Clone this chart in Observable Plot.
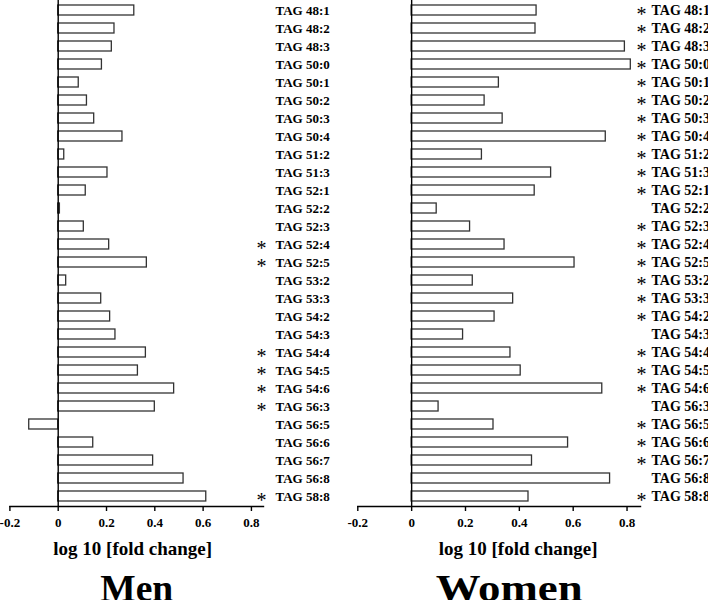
<!DOCTYPE html>
<html>
<head>
<meta charset="utf-8">
<script src="https://cdn.jsdelivr.net/npm/d3@7"></script>
<script src="https://cdn.jsdelivr.net/npm/@observablehq/plot@0.6"></script>
<style>
  html, body { margin: 0; padding: 0; background: white; }
  #wrap { position: relative; width: 708px; height: 600px; overflow: hidden; background: white; }
  #wrap svg { position: absolute; top: 0; background: transparent !important; overflow: visible; }
</style>
</head>
<body>
<div id="wrap"></div>
<script>
const categories = ["TAG 48:1","TAG 48:2","TAG 48:3","TAG 50:0","TAG 50:1","TAG 50:2","TAG 50:3","TAG 50:4","TAG 51:2","TAG 51:3","TAG 52:1","TAG 52:2","TAG 52:3","TAG 52:4","TAG 52:5","TAG 53:2","TAG 53:3","TAG 54:2","TAG 54:3","TAG 54:4","TAG 54:5","TAG 54:6","TAG 56:3","TAG 56:5","TAG 56:6","TAG 56:7","TAG 56:8","TAG 58:8"];
const menValues = [0.315,0.233,0.222,0.181,0.085,0.119,0.149,0.266,0.025,0.204,0.114,0.007,0.106,0.211,0.367,0.033,0.178,0.215,0.237,0.363,0.330,0.480,0.400,-0.120,0.145,0.393,0.519,0.613];
const womenValues = [0.464,0.460,0.792,0.814,0.324,0.271,0.338,0.721,0.261,0.518,0.457,0.093,0.217,0.345,0.605,0.227,0.377,0.308,0.191,0.367,0.405,0.708,0.100,0.304,0.581,0.447,0.737,0.434];
const menSig = [0,0,0,0,0,0,0,0,0,0,0,0,0,1,1,0,0,0,0,1,1,1,1,0,0,0,0,1];
const womenSig = [1,1,1,1,1,1,1,1,1,1,1,0,1,1,1,1,1,1,0,1,1,1,0,1,1,1,0,1];
const xTicks = [-0.2, 0, 0.2, 0.4, 0.6, 0.8];
const xDomain = [-0.2, 0.85];
const axisTitle = "log 10 [fold change]";
const panelTitles = ["Men", "Women"];

const FONT = "'Liberation Serif', 'Times New Roman', serif";

function panel(values, sig, title, cfg) {
  const data = categories.map((name, i) => ({name, value: values[i], sig: sig[i]}));
  const svg = Plot.plot({
    width: cfg.width,
    height: 600,
    marginTop: 0,
    marginBottom: 94,
    marginLeft: cfg.ml,
    marginRight: cfg.mr,
    style: {fontFamily: FONT, background: "transparent", color: "black"},
    x: {domain: xDomain, axis: null},
    y: {domain: categories, paddingInner: 0.45, paddingOuter: 0.225, axis: null},
    marks: [
      Plot.barX(data, {x1: 0, x2: "value", y: "name", fill: "white", stroke: "#333", strokeWidth: 1.3}),
      Plot.ruleX([0], {stroke: "black", strokeWidth: 1.4}),
      Plot.frame({anchor: "bottom", stroke: "black", strokeWidth: 1.4}),
      Plot.axisX({ticks: xTicks, tickSize: 5, tickPadding: 6, tickFormat: d => d === 0 ? "0" : d.toFixed(1),
        fontSize: 13, fontWeight: "bold", stroke: "black", strokeWidth: 1.4, label: null}),
      Plot.axisY({anchor: "right", tickSize: 0, tickPadding: cfg.lp, textAnchor: "start",
        fontSize: cfg.lf, fontWeight: "bold", label: null}),
      Plot.text(data.filter(d => d.sig), {y: "name", text: () => "*", frameAnchor: "right",
        dx: cfg.sx, dy: 4, fontSize: 20, fontFamily: FONT}),
      Plot.text([axisTitle], {frameAnchor: "bottom", lineAnchor: "bottom", dy: 48, dx: cfg.ax,
        fontSize: 19, fontWeight: "bold"}),
      Plot.text([title], {frameAnchor: "bottom", lineAnchor: "bottom", dy: 94, dx: cfg.tx,
        fontSize: 37, fontWeight: "bold"})
    ]
  });
  svg.style.left = cfg.left + "px";
  d3.select(svg).selectAll("text").filter(function() { return this.textContent === title; })
    .attr("textLength", cfg.tl).attr("lengthAdjust", "spacingAndGlyphs");
  return svg;
}

const wrap = document.getElementById("wrap");
wrap.appendChild(panel(menValues, menSig, panelTitles[0],
  {left: 0, width: 354, ml: 9.4, mr: 91, lp: 12, lf: 13, sx: 3, ax: -4, tx: 0, tl: 73}));
wrap.appendChild(panel(womenValues, womenSig, panelTitles[1],
  {left: 340, width: 368, ml: 17.3, mr: 68, lp: 11, lf: 14, sx: 6, ax: 19, tx: 10, tl: 147}));
</script>
</body>
</html>
